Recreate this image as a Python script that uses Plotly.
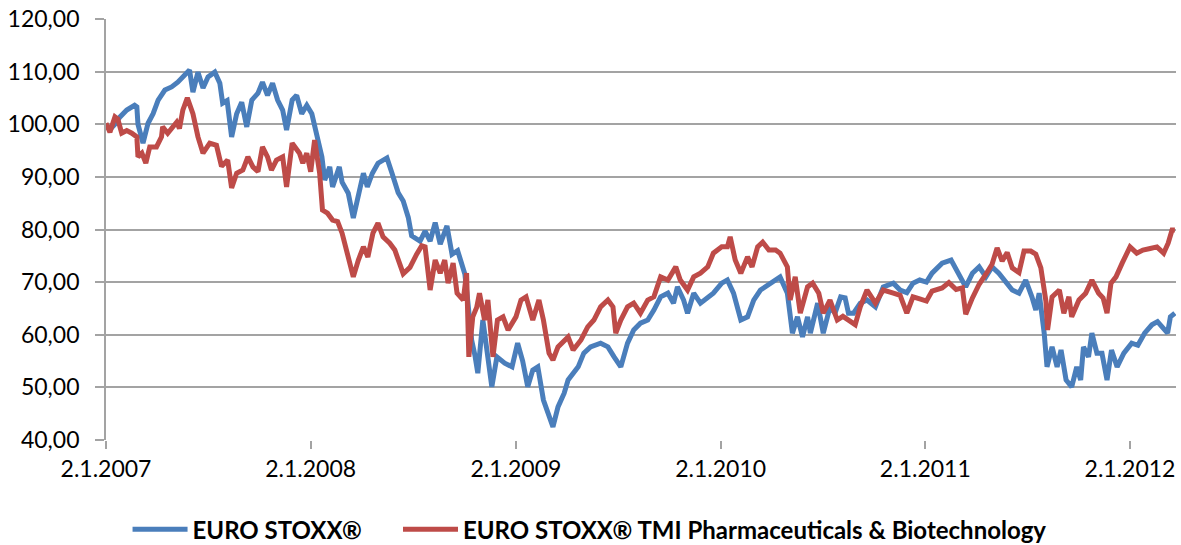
import plotly.graph_objects as go

# ---- EURO STOXX (blue) ----
blue_dates = [
 "2007-01-02","2007-01-09","2007-01-18","2007-01-27","2007-02-08","2007-02-22","2007-02-26","2007-02-28",
 "2007-03-09","2007-03-18","2007-03-27","2007-04-05","2007-04-17","2007-04-29","2007-05-10","2007-05-19",
 "2007-05-31","2007-06-06","2007-06-15","2007-06-24","2007-07-03","2007-07-15","2007-07-24","2007-07-29",
 "2007-08-06","2007-08-14","2007-08-23","2007-09-01","2007-09-10","2007-09-19","2007-09-30","2007-10-08",
 "2007-10-17","2007-10-26","2007-11-04","2007-11-13","2007-11-20","2007-11-30","2007-12-08","2007-12-17",
 "2007-12-26","2008-01-04","2008-01-09","2008-01-14","2008-01-22","2008-01-27","2008-02-05","2008-02-10",
 "2008-02-22","2008-02-27","2008-03-09","2008-03-18","2008-03-27","2008-04-05","2008-04-12","2008-04-21",
 "2008-05-01","2008-05-17","2008-05-26","2008-06-06","2008-06-15","2008-06-24","2008-06-30","2008-07-15",
 "2008-07-24","2008-08-02","2008-08-11","2008-08-20","2008-09-01","2008-09-10","2008-09-20","2008-10-03",
 "2008-10-08","2008-10-15","2008-10-21","2008-10-26","2008-11-04","2008-11-13","2008-11-20","2008-11-29",
 "2008-12-13","2008-12-26","2009-01-05","2009-01-14","2009-01-23","2009-02-01","2009-02-10","2009-02-20",
 "2009-03-05","2009-03-09","2009-03-18","2009-03-29","2009-04-05","2009-04-14","2009-04-23","2009-05-03",
 "2009-05-15","2009-06-02","2009-06-15","2009-06-26","2009-07-08","2009-07-20","2009-07-31","2009-08-12",
 "2009-08-25","2009-09-05","2009-09-17","2009-09-30","2009-10-10","2009-10-17","2009-10-28","2009-11-04",
 "2009-11-15","2009-11-27","2009-12-10","2009-12-20","2010-01-04","2010-01-14","2010-01-25","2010-02-07",
 "2010-02-19","2010-03-02","2010-03-14","2010-04-01","2010-04-18","2010-05-01","2010-05-10","2010-05-19",
 "2010-05-28","2010-06-06","2010-06-11","2010-06-24","2010-07-04","2010-07-16","2010-07-25","2010-08-04",
 "2010-08-12","2010-08-18","2010-08-27","2010-09-08","2010-09-20","2010-10-05","2010-10-19","2010-11-06",
 "2010-11-18","2010-11-30","2010-12-11","2010-12-23","2011-01-04","2011-01-14","2011-02-01","2011-02-17",
 "2011-03-03","2011-03-15","2011-03-27","2011-04-08","2011-04-20","2011-05-01","2011-05-13","2011-05-26",
 "2011-06-06","2011-06-18","2011-06-30","2011-07-11","2011-07-18","2011-07-24","2011-08-02","2011-08-07",
 "2011-08-16","2011-08-25","2011-09-01","2011-09-10","2011-09-20","2011-09-29","2011-10-06","2011-10-11",
 "2011-10-20","2011-10-26","2011-11-04","2011-11-13","2011-11-22","2011-11-30","2011-12-10","2011-12-22",
 "2012-01-05","2012-01-16","2012-01-28","2012-02-10","2012-02-20","2012-03-09","2012-03-14","2012-03-22",
]
blue_values = [
 99.8, 99.0, 100.0, 101.4, 102.7, 103.6, 103.3, 100.0,
 96.4, 100.2, 102.0, 104.6, 106.5, 107.1, 108.0, 109.0,
 110.3, 106.1, 109.9, 106.9, 109.0, 109.9, 107.8, 104.0,
 104.5, 97.6, 102.0, 104.2, 99.5, 104.6, 105.9, 108.0,
 105.5, 107.8, 104.6, 102.7, 98.9, 104.6, 105.5, 102.0,
 103.6, 102.0, 99.5, 97.6, 93.8, 89.4, 91.9, 88.1,
 91.9, 89.0, 86.9, 82.2, 86.0, 90.7, 88.1, 90.7,
 92.6, 93.6, 90.7, 87.0, 85.4, 82.3, 78.8, 77.8,
 79.7, 77.8, 81.3, 77.2, 80.7, 75.3, 76.0, 71.5,
 66.5, 59.0, 56.0, 52.7, 62.8, 55.0, 50.1, 55.8,
 54.6, 53.9, 58.4, 55.0, 50.1, 53.3, 53.9, 47.6,
 43.8, 42.5, 46.3, 48.9, 51.4, 52.7, 53.9, 56.5,
 57.7, 58.4, 57.7, 55.8, 53.9, 58.4, 60.9, 62.2,
 62.8, 64.7, 67.2, 67.9, 66.0, 69.1, 66.6, 64.1,
 67.9, 66.0, 67.2, 67.9, 69.8, 70.4, 67.9, 62.8,
 63.4, 66.6, 68.5, 69.8, 71.0, 67.9, 60.3, 63.4,
 59.6, 63.4, 60.3, 66.0, 60.3, 65.3, 64.1, 67.2,
 67.0, 64.1, 64.1, 66.0, 66.6, 65.3, 69.1, 69.8,
 68.5, 68.0, 69.8, 70.4, 70.0, 71.7, 73.6, 74.2,
 71.7, 69.1, 71.7, 72.9, 71.0, 72.9, 71.7, 69.8,
 68.5, 67.9, 70.4, 67.2, 64.7, 67.9, 60.3, 53.9,
 57.7, 53.9, 57.1, 51.4, 50.1, 53.9, 51.4, 57.7,
 55.8, 60.3, 56.5, 56.5, 51.4, 57.1, 53.9, 56.5,
 58.4, 58.0, 60.3, 61.9, 62.5, 60.3, 63.4, 64.1,
]

# ---- EURO STOXX TMI Pharmaceuticals & Biotechnology (red) ----
red_dates = [
 "2007-01-02","2007-01-09","2007-01-18","2007-01-23","2007-01-30","2007-02-08","2007-02-17","2007-02-26",
 "2007-02-28","2007-03-07","2007-03-14","2007-03-21","2007-04-02","2007-04-11","2007-04-13","2007-04-22",
 "2007-05-08","2007-05-13","2007-05-19","2007-05-27","2007-06-06","2007-06-15","2007-06-24","2007-07-06",
 "2007-07-18","2007-07-27","2007-08-07","2007-08-14","2007-08-23","2007-09-03","2007-09-12","2007-09-21",
 "2007-09-30","2007-10-08","2007-10-17","2007-10-24","2007-11-02","2007-11-13","2007-11-20","2007-11-30",
 "2007-12-13","2007-12-19","2007-12-26","2008-01-02","2008-01-09","2008-01-18","2008-01-23","2008-02-01",
 "2008-02-10","2008-02-19","2008-02-27","2008-03-09","2008-03-18","2008-03-27","2008-04-05","2008-04-13",
 "2008-04-22","2008-05-01","2008-05-10","2008-05-22","2008-05-31","2008-06-15","2008-06-27","2008-07-09",
 "2008-07-18","2008-07-24","2008-08-02","2008-08-11","2008-08-20","2008-08-28","2008-09-03","2008-09-12",
 "2008-09-19","2008-09-30","2008-10-06","2008-10-10","2008-10-17","2008-10-24","2008-10-29","2008-11-07",
 "2008-11-13","2008-11-22","2008-11-30","2008-12-10","2008-12-19","2009-01-02","2009-01-11","2009-01-20",
 "2009-02-01","2009-02-12","2009-02-20","2009-03-02","2009-03-09","2009-03-18","2009-04-05","2009-04-14",
 "2009-04-28","2009-05-10","2009-05-21","2009-06-02","2009-06-15","2009-06-24","2009-06-29","2009-07-08",
 "2009-07-20","2009-07-31","2009-08-12","2009-08-25","2009-09-05","2009-09-17","2009-09-30","2009-10-14",
 "2009-10-22","2009-11-04","2009-11-15","2009-11-27","2009-12-10","2009-12-20","2010-01-04","2010-01-14",
 "2010-01-19","2010-01-28","2010-02-07","2010-02-19","2010-02-27","2010-03-09","2010-03-18","2010-03-29",
 "2010-04-10","2010-04-18","2010-05-01","2010-05-06","2010-05-15","2010-05-24","2010-06-06","2010-06-15",
 "2010-06-26","2010-07-04","2010-07-16","2010-07-29","2010-08-08","2010-08-22","2010-08-30","2010-09-08",
 "2010-09-20","2010-10-05","2010-10-19","2010-11-06","2010-11-18","2010-11-30","2010-12-11","2010-12-23",
 "2011-01-04","2011-01-14","2011-02-01","2011-02-13","2011-02-26","2011-03-09","2011-03-15","2011-03-27",
 "2011-04-08","2011-04-20","2011-05-01","2011-05-10","2011-05-19","2011-05-28","2011-06-06","2011-06-18",
 "2011-06-27","2011-07-09","2011-07-18","2011-07-27","2011-08-05","2011-08-08","2011-08-16","2011-08-29",
 "2011-09-06","2011-09-15","2011-09-20","2011-10-03","2011-10-15","2011-10-26","2011-11-07","2011-11-15",
 "2011-11-22","2011-11-29","2011-12-08","2011-12-19","2012-01-02","2012-01-14","2012-01-25","2012-02-07",
 "2012-02-19","2012-03-02","2012-03-10","2012-03-17","2012-03-22",
]
red_values = [
 100.2, 98.5, 101.4, 101.0, 98.3, 98.8, 98.3, 97.6,
 93.8, 94.5, 92.6, 95.7, 95.7, 97.6, 99.5, 98.3,
 100.4, 99.2, 102.7, 105.0, 102.0, 97.6, 94.5, 96.4,
 96.0, 92.0, 93.2, 87.9, 90.7, 91.3, 93.8, 91.9,
 91.0, 95.7, 93.8, 91.3, 93.2, 93.8, 88.1, 96.4,
 94.5, 92.6, 94.5, 91.0, 97.0, 90.7, 83.7, 83.1,
 81.8, 81.5, 79.3, 74.2, 71.0, 74.2, 76.7, 74.8,
 79.3, 81.2, 78.6, 77.4, 76.1, 71.6, 72.8, 75.3,
 76.9, 76.7, 68.5, 74.2, 71.7, 74.2, 69.8, 73.6,
 67.9, 66.6, 71.7, 55.8, 63.4, 65.2, 67.9, 62.8,
 66.6, 55.8, 62.8, 63.4, 60.9, 63.4, 66.6, 67.2,
 62.8, 66.6, 62.8, 56.5, 55.2, 57.7, 59.6, 57.1,
 59.0, 61.5, 62.8, 65.3, 66.6, 65.3, 60.3, 62.8,
 65.3, 66.0, 64.1, 66.6, 67.2, 71.0, 70.4, 72.9,
 70.4, 68.5, 71.0, 71.7, 72.9, 75.5, 76.7, 76.7,
 78.6, 74.2, 71.7, 74.8, 72.9, 76.7, 77.6, 76.1,
 76.1, 75.5, 72.9, 66.6, 71.0, 64.1, 69.1, 69.8,
 67.9, 64.1, 66.6, 62.8, 63.5, 62.5, 61.9, 65.3,
 68.5, 66.0, 68.5, 67.9, 67.5, 64.1, 67.2, 66.8,
 66.4, 68.3, 68.9, 69.9, 68.6, 68.9, 63.9, 67.0,
 69.6, 71.5, 73.4, 76.5, 74.0, 75.6, 72.7, 71.8,
 75.9, 75.9, 75.3, 72.7, 66.4, 60.9, 67.2, 68.5,
 64.1, 67.2, 63.4, 66.6, 67.9, 70.4, 67.9, 67.0,
 64.1, 69.8, 71.0, 73.6, 76.7, 75.5, 76.1, 76.4,
 76.7, 75.5, 77.4, 79.9, 79.9,
]

series_names = ["EURO STOXX®", "EURO STOXX® TMI Pharmaceuticals & Biotechnology"]
x_tick_dates = ["2007-01-02", "2008-01-02", "2009-01-02", "2010-01-02", "2011-01-02", "2012-01-02"]
x_tick_text = ["2.1.2007", "2.1.2008", "2.1.2009", "2.1.2010", "2.1.2011", "2.1.2012"]
y_ticks = [40, 50, 60, 70, 80, 90, 100, 110, 120]

BLUE = "#4a7ebb"
RED = "#be4b48"
GRID = "#a3a3a3"
FONT = "Lato"

fig = go.Figure()
fig.add_trace(go.Scatter(x=blue_dates, y=blue_values, mode="lines", name=series_names[0],
                         line=dict(color=BLUE, width=5), legend="legend"))
fig.add_trace(go.Scatter(x=red_dates, y=red_values, mode="lines", name=series_names[1],
                         line=dict(color=RED, width=5), legend="legend2"))

legend_common = dict(orientation="h", xref="container", yref="container",
                     xanchor="left", y=0.028, yanchor="middle",
                     font=dict(family=FONT, size=24, weight="bold"), itemwidth=55,
                     bgcolor="rgba(0,0,0,0)")

fig.update_layout(
    width=1181, height=545,
    margin=dict(l=106, r=5, t=19, b=105),
    paper_bgcolor="white", plot_bgcolor="white",
    separators=",.",
    font=dict(family=FONT, size=23, color="#000000"),
    showlegend=True,
    legend=dict(x=0.108, **legend_common),
    legend2=dict(x=0.337, **legend_common),
)
fig.update_xaxes(
    type="date",
    range=["2007-01-02", "2012-03-24"],
    tickvals=x_tick_dates, ticktext=x_tick_text,
    ticks="outside", ticklen=8, tickwidth=1.5, tickcolor=GRID,
    showgrid=False, zeroline=False,
    showline=False,
    automargin=False,
    tickfont=dict(family=FONT, size=23),
)
fig.update_yaxes(
    range=[40, 120],
    tickvals=y_ticks, tickformat=".2f",
    ticks="outside", ticklen=9, tickwidth=1.5, tickcolor=GRID,
    showgrid=True, gridcolor=GRID, gridwidth=1.8,
    showline=True, linecolor=GRID, linewidth=1.8,
    zeroline=False,
    automargin=False,
    ticklabelstandoff=11,
    tickfont=dict(family=FONT, size=23),
)

fig.write_html("out.html", config={"displayModeBar": False},
               post_script="document.body.style.margin='0';document.body.style.padding='0';")
